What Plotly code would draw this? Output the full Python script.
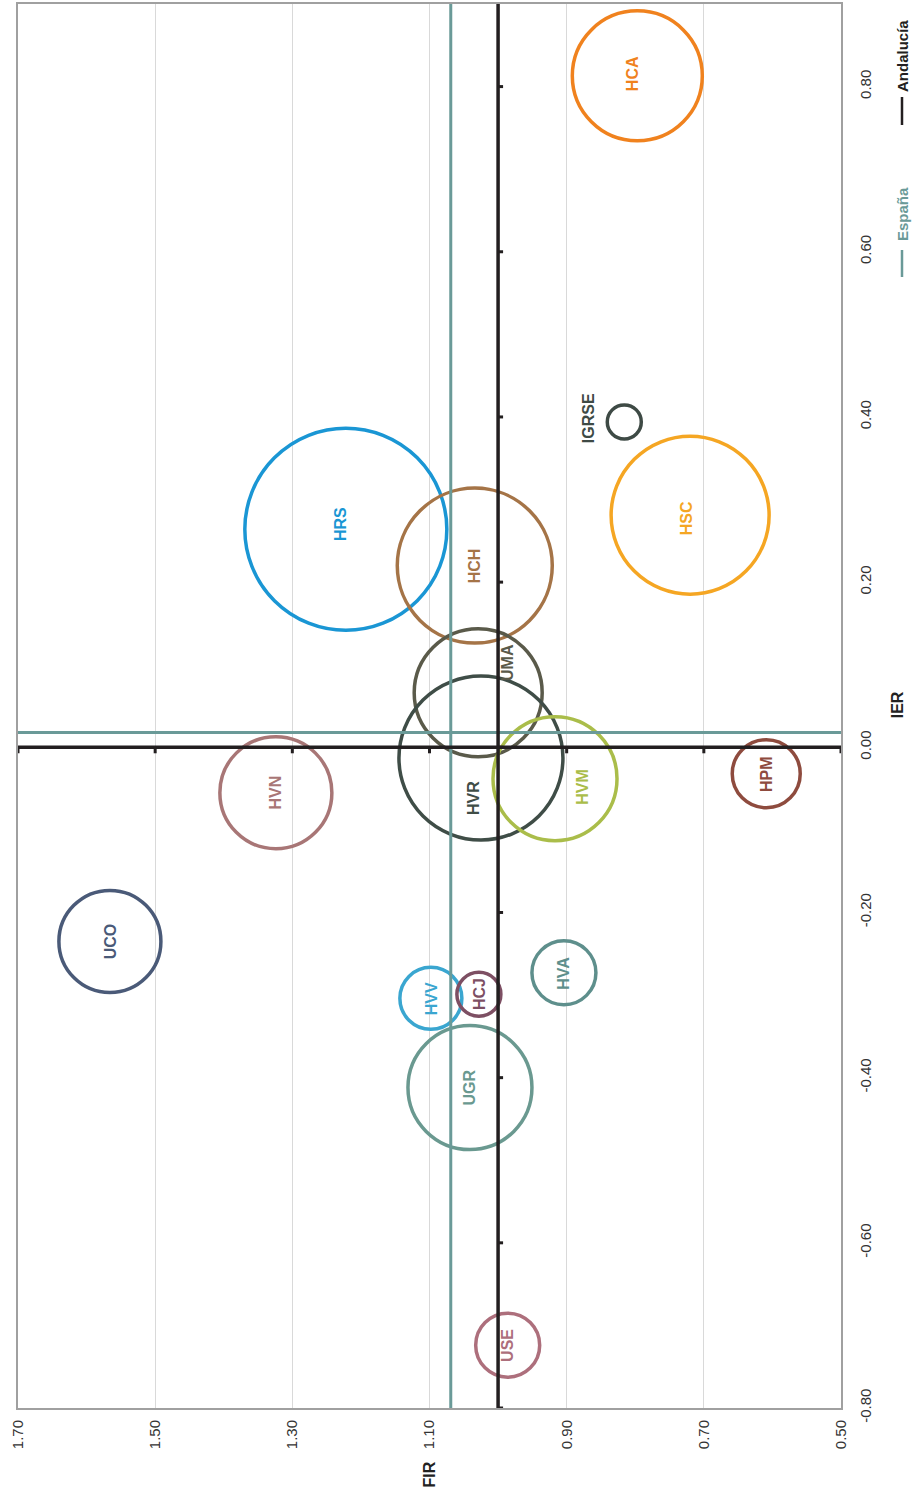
import plotly.graph_objects as go

# ---- data ----
names = ["HCA", "IGRSE", "HSC", "HRS", "HCH", "UMA", "HVR", "HVM", "HVN", "HPM",
         "UCO", "HVA", "HVV", "HCJ", "UGR", "USE"]
fir = [0.797, 0.816, 0.720, 1.222, 1.034, 1.029, 1.025, 0.917, 1.324, 0.609,
       1.566, 0.904, 1.098, 1.028, 1.041, 0.986]
ier = [0.813, 0.394, 0.281, 0.264, 0.220, 0.066, -0.013, -0.038, -0.055, -0.032,
       -0.235, -0.273, -0.304, -0.299, -0.412, -0.724]
bubble_size = [130, 34, 158, 202, 155, 128, 164, 124, 112, 68,
               102, 64, 62, 44, 124, 64]
colors = ["#F0821E", "#3E4A45", "#F5A623", "#1A96D4", "#A57447", "#5A5A4A",
          "#3F4D47", "#AABD4A", "#A87676", "#8E4B3E", "#4A5A78", "#5E8F8C",
          "#3AA6D0", "#7D4F63", "#6A9990", "#AD6F7C"]

fir_ticks = [1.70, 1.50, 1.30, 1.10, 0.90, 0.70, 0.50]
ier_ticks = [0.80, 0.60, 0.40, 0.20, 0.00, -0.20, -0.40, -0.60, -0.80]
fir_spain = 1.069
ier_spain = 0.018
fir_andalucia = 1.0
ier_andalucia = 0.0

# label pixel offsets (styling)
label_shift = {"IGRSE": (-35, 4), "UMA": (30, 30), "HVR": (-8, -40), "HVM": (28, -8),
               "HRS": (-6, 5), "HCA": (-4, 2), "HSC": (-4, -3)}

font_family = "Liberation Sans, Arial, sans-serif"
teal = "#6A9A98"
black = "#231F20"

fig = go.Figure()
fig.add_trace(go.Scatter(
    x=fir, y=ier, mode="markers",
    marker=dict(size=bubble_size, sizemode="diameter", sizeref=1, opacity=1,
                color="rgba(0,0,0,0)",
                line=dict(color=colors, width=3.5)),
    hoverinfo="text", text=names, showlegend=False, cliponaxis=False,
))

shapes = []
# España lines
shapes.append(dict(type="line", xref="x", yref="paper", x0=fir_spain, x1=fir_spain, y0=0, y1=1,
                   line=dict(color=teal, width=3)))
shapes.append(dict(type="line", xref="paper", yref="y", x0=0, x1=1, y0=ier_spain, y1=ier_spain,
                   line=dict(color=teal, width=3)))
# Andalucía lines
shapes.append(dict(type="line", xref="x", yref="paper", x0=fir_andalucia, x1=fir_andalucia, y0=0, y1=1,
                   line=dict(color=black, width=3.5)))
shapes.append(dict(type="line", xref="paper", yref="y", x0=0, x1=1, y0=ier_andalucia, y1=ier_andalucia,
                   line=dict(color=black, width=3.5)))
# tick marks on Andalucía lines
for t in ier_ticks:
    shapes.append(dict(type="line", xref="x", yref="y", xsizemode="pixel", xanchor=fir_andalucia,
                       x0=0, x1=5, y0=t, y1=t, line=dict(color=black, width=3)))
for t in fir_ticks:
    shapes.append(dict(type="line", xref="x", yref="y", ysizemode="pixel", yanchor=ier_andalucia,
                       y0=0, y1=-6, x0=t, x1=t, line=dict(color=black, width=3)))
# legend line samples
shapes.append(dict(type="line", xref="paper", yref="paper", xsizemode="pixel", ysizemode="pixel",
                   xanchor=1, yanchor=1, x0=61, x1=61, y0=-93, y1=-121,
                   line=dict(color=black, width=2.5)))
shapes.append(dict(type="line", xref="paper", yref="paper", xsizemode="pixel", ysizemode="pixel",
                   xanchor=1, yanchor=1, x0=61, x1=61, y0=-246, y1=-273,
                   line=dict(color=teal, width=2.5)))

annotations = []
for n, xv, yv, c in zip(names, fir, ier, colors):
    dx, dy = label_shift.get(n, (0, 0))
    annotations.append(dict(x=xv, y=yv, xref="x", yref="y", text=f"<b>{n}</b>",
                            showarrow=False, textangle=-90, xshift=dx, yshift=dy,
                            font=dict(family=font_family, size=16, color=c)))
# axis titles
annotations.append(dict(x=1.10, y=0, xref="x", yref="paper",
                        yanchor="middle", yshift=-67, xshift=-1,
                        text="<b>FIR</b>", showarrow=False, textangle=-90,
                        font=dict(family=font_family, size=16, color="#222")))
annotations.append(dict(x=1, y=0.0, xref="paper", yref="y", xanchor="center", yanchor="middle",
                        xshift=56, yshift=42,
                        text="<b>IER</b>", showarrow=False, textangle=-90,
                        font=dict(family=font_family, size=16, color="#222")))
# legend texts
annotations.append(dict(x=1, y=1, xref="paper", yref="paper", xanchor="center", yanchor="middle",
                        xshift=61, yshift=-52, text="<b>Andalucía</b>", showarrow=False,
                        textangle=-90, font=dict(family=font_family, size=15, color=black)))
annotations.append(dict(x=1, y=1, xref="paper", yref="paper", xanchor="center", yanchor="middle",
                        xshift=61, yshift=-210, text="<b>España</b>", showarrow=False,
                        textangle=-90, font=dict(family=font_family, size=15, color=teal)))

fig.update_layout(
    width=912, height=1500,
    margin=dict(l=18, r=71, t=4, b=92, autoexpand=False),
    paper_bgcolor="white", plot_bgcolor="white",
    shapes=shapes, annotations=annotations,
    font=dict(family=font_family, size=15, color="#333"),
    hovermode=False,
    xaxis=dict(range=[1.70, 0.50], tickvals=fir_ticks,
               ticktext=[f"{v:.2f}" for v in fir_ticks], tickangle=-90,
               showgrid=True, gridcolor="#D9D9D9", gridwidth=1, zeroline=False,
               showline=True, linecolor="#A0A0A0", linewidth=2, mirror=True,
               ticks="", ticklabelstandoff=4, automargin=False),
    yaxis=dict(range=[-0.80, 0.90], tickvals=ier_ticks,
               ticktext=[f"{v:.2f}" for v in ier_ticks], tickangle=-90,
               side="right", showgrid=False, zeroline=False,
               showline=True, linecolor="#A0A0A0", linewidth=2, mirror=True,
               ticks="", ticklabelstandoff=10, automargin=False),
)

fig.write_html("out.html", config={"displayModeBar": False},
               post_script="document.body.style.margin='0';")
